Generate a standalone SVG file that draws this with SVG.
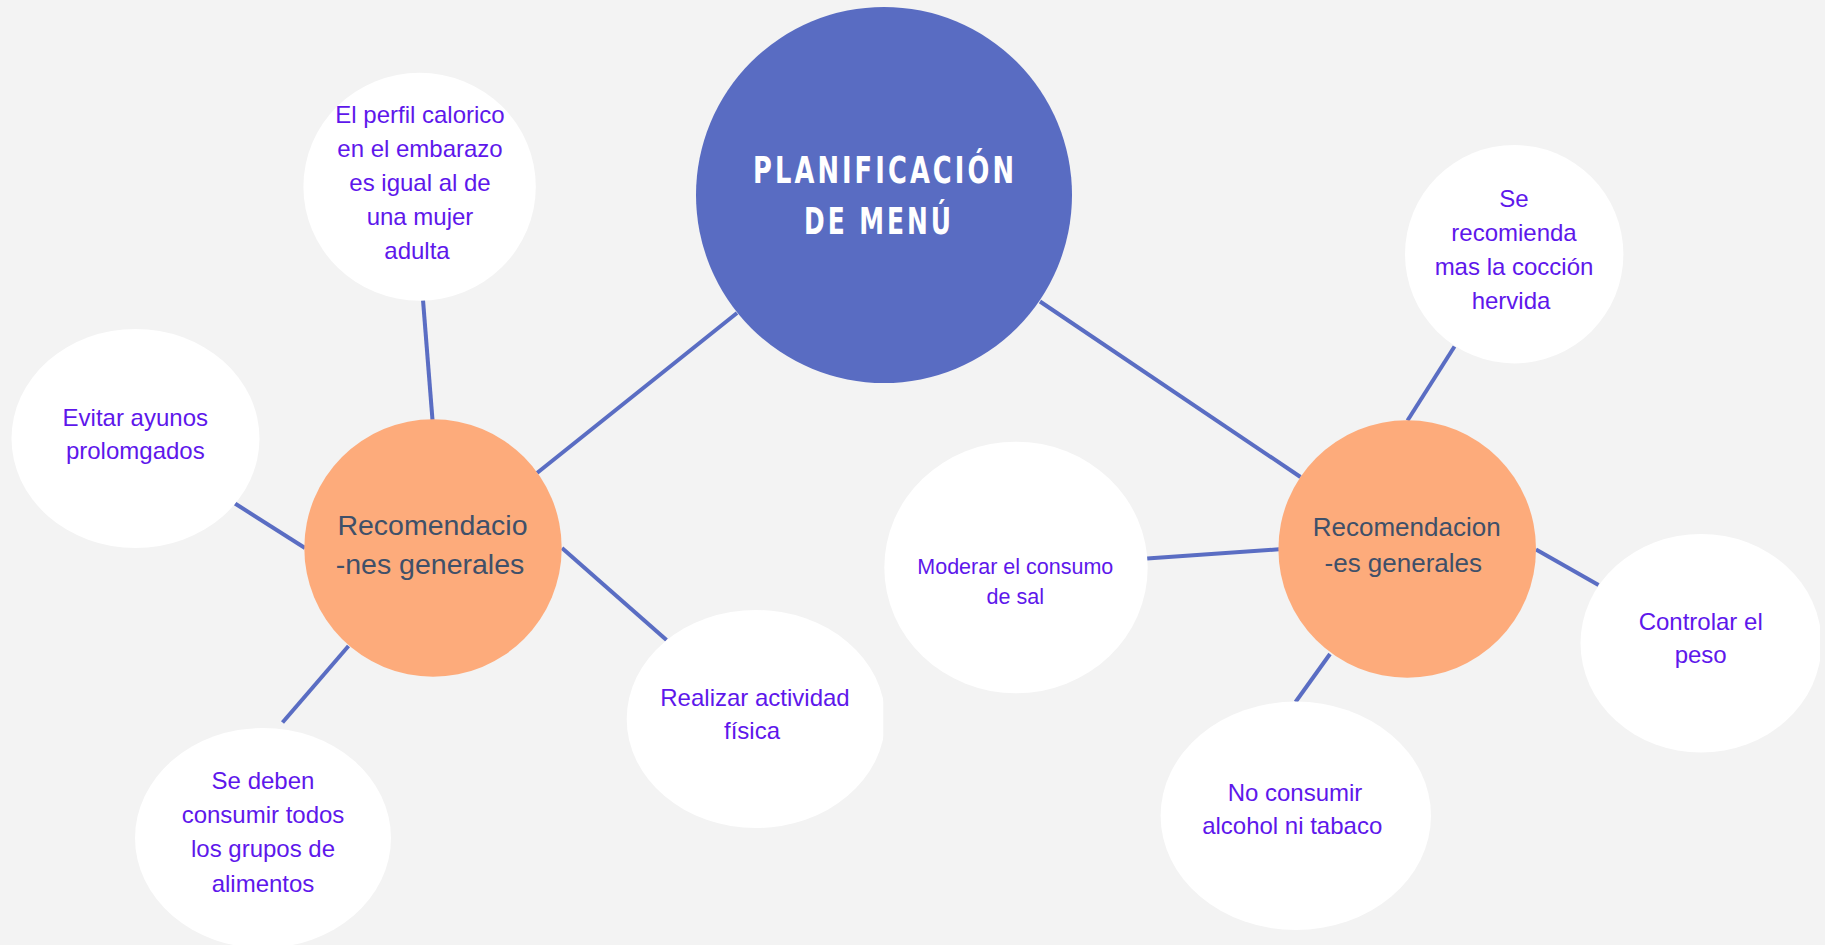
<svg xmlns="http://www.w3.org/2000/svg" width="1825" height="945" viewBox="0 0 1825 945">
<defs>
<style>
.bg{fill:#f3f3f3}
.edge{stroke:#5a6dc3;stroke-width:4;fill:none}
.main{fill:#596cc2}
.hub{fill:#fdab7b}
.leaf{fill:#ffffff}
.title{font-family:"DejaVu Sans","Liberation Sans",sans-serif;font-weight:bold;font-size:37px;fill:#ffffff;font-stretch:condensed;letter-spacing:4px}
.hubt{font-family:"Liberation Sans",Arial,sans-serif;fill:#3f5069;text-anchor:middle}
.lt{font-family:"Liberation Sans",Arial,sans-serif;font-size:24px;fill:#5e17eb;text-anchor:middle}
.small{font-size:21.5px}
</style>
<clipPath id="clipReal"><rect x="0" y="0" width="883.3" height="945"/></clipPath>
<clipPath id="clipCtrl"><rect x="0" y="0" width="1820" height="945"/></clipPath>
</defs>
<rect class="bg" x="0" y="0" width="1825" height="945"/>

<g id="connectors">
<line class="edge" x1="737" y1="313" x2="537" y2="473"/>
<line class="edge" x1="423" y1="300" x2="432.5" y2="420"/>
<line class="edge" x1="235" y1="503.5" x2="305" y2="548"/>
<line class="edge" x1="348.5" y1="646" x2="282.5" y2="722.5"/>
<line class="edge" x1="562" y1="548" x2="666.5" y2="640"/>
<line class="edge" x1="1040" y1="301.5" x2="1300.5" y2="477"/>
<line class="edge" x1="1454.5" y1="346.5" x2="1407.5" y2="420.5"/>
<line class="edge" x1="1147" y1="558.5" x2="1279" y2="549.3"/>
<line class="edge" x1="1536" y1="549.5" x2="1598.5" y2="585"/>
<line class="edge" x1="1330" y1="654" x2="1295.5" y2="702"/>
</g>

<g id="node-main">
<circle class="main" cx="884" cy="195" r="188"/>
<text class="title" x="753" y="183" textLength="264" lengthAdjust="spacingAndGlyphs">PLANIFICACIÓN</text>
<text class="title" x="804" y="234" textLength="150" lengthAdjust="spacingAndGlyphs">DE MENÚ</text>
</g>

<g id="node-hub-left">
<circle class="hub" cx="433" cy="548" r="128.7"/>
<text class="hubt" font-size="28.5" x="432.5" y="535">Recomendacio</text>
<text class="hubt" font-size="28.5" x="430" y="574.3">-nes generales</text>
</g>

<g id="node-perfil">
<ellipse class="leaf" cx="419.6" cy="186.7" rx="116.2" ry="114"/>
<text class="lt" x="420" y="123.3">El perfil calorico</text>
<text class="lt" x="420" y="157">en el embarazo</text>
<text class="lt" x="420" y="191">es igual al de</text>
<text class="lt" x="420" y="225">una mujer</text>
<text class="lt" x="417" y="259.3">adulta</text>
</g>

<g id="node-evitar">
<ellipse class="leaf" cx="135.5" cy="438.5" rx="124" ry="109.5"/>
<text class="lt" x="135.3" y="425.7">Evitar ayunos</text>
<text class="lt" x="135.3" y="459">prolomgados</text>
</g>

<g id="node-sedeben">
<ellipse class="leaf" cx="263" cy="838" rx="128" ry="110"/>
<text class="lt" x="263" y="789.3">Se deben</text>
<text class="lt" x="263" y="823.3">consumir todos</text>
<text class="lt" x="263" y="856.7">los grupos de</text>
<text class="lt" x="263" y="891.7">alimentos</text>
</g>

<g id="node-realizar">
<ellipse class="leaf" cx="756" cy="719" rx="129.3" ry="109" clip-path="url(#clipReal)"/>
<text class="lt" x="755" y="706">Realizar actividad</text>
<text class="lt" x="752" y="739.3">física</text>
</g>

<g id="node-hub-right">
<circle class="hub" cx="1407.2" cy="549" r="128.8"/>
<text class="hubt" font-size="26" x="1406.7" y="536">Recomendacion</text>
<text class="hubt" font-size="26" x="1403.3" y="571.7">-es generales</text>
</g>

<g id="node-coccion">
<ellipse class="leaf" cx="1514.2" cy="254.2" rx="109.2" ry="109.2"/>
<text class="lt" x="1514" y="206.7">Se</text>
<text class="lt" x="1514" y="240.7">recomienda</text>
<text class="lt" x="1514" y="275.3">mas la cocción</text>
<text class="lt" x="1511" y="309">hervida</text>
</g>

<g id="node-moderar">
<ellipse class="leaf" cx="1016" cy="567.5" rx="131.7" ry="125.8"/>
<text class="lt small" x="1015.3" y="574">Moderar el consumo</text>
<text class="lt small" x="1015.3" y="604">de sal</text>
</g>

<g id="node-controlar">
<ellipse class="leaf" cx="1701" cy="643.3" rx="120.5" ry="109.3" clip-path="url(#clipCtrl)"/>
<text class="lt" x="1700.7" y="630">Controlar el</text>
<text class="lt" x="1700.7" y="663.3">peso</text>
</g>

<g id="node-noconsumir">
<ellipse class="leaf" cx="1295.8" cy="815.8" rx="135.2" ry="114.2"/>
<text class="lt" x="1295" y="801">No consumir</text>
<text class="lt" x="1292.2" y="834.3">alcohol ni tabaco</text>
</g>
</svg>
